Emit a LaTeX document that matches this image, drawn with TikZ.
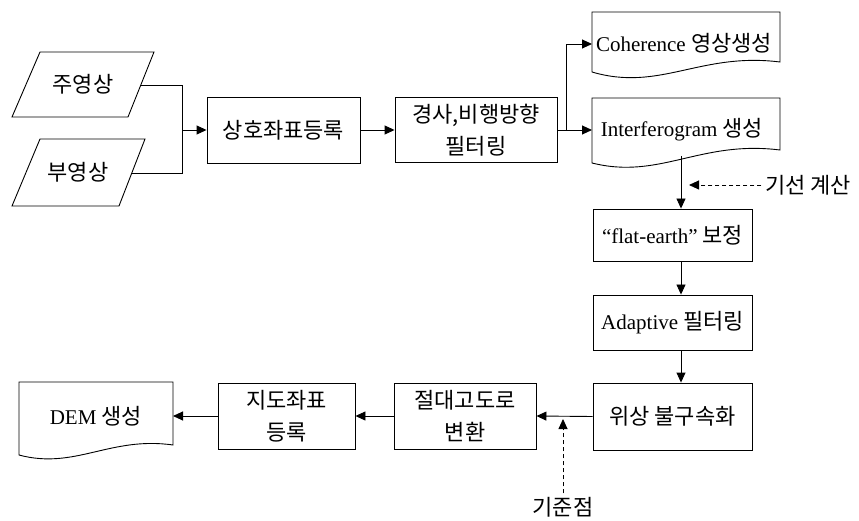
\documentclass[tikz,border=0pt]{standalone}
\usepackage{fontspec}
\setmainfont{Liberation Serif}
\newfontfamily\kr{Noto Sans CJK KR}
\usetikzlibrary{arrows.meta}
\begin{document}
\begin{tikzpicture}[x=1pt,y=-1pt,line width=0.9pt,
  krf/.style={font=\kr\fontsize{22}{32}\selectfont},
  proc/.style={draw,krf,align=center,inner sep=2pt},
  latf/.style={font=\fontsize{21}{24}\selectfont},
  arr/.style={-{Triangle[length=10pt,width=9pt]}},
  dasharr/.style={arr,dash pattern=on 4pt off 3pt}]
\useasboundingbox (0,0) rectangle (859,521);
% input parallelograms
\draw (40,52) -- (154,52) -- (128,117) -- (12,117) -- cycle;
\node[krf] (main) at (83,84) {주영상};
\draw (40,139) -- (145,139) -- (119,206) -- (12,206) -- cycle;
\node[krf] (sub) at (78,172) {부영상};
\coordinate (mainR) at (141,85);
\coordinate (subR) at (132,173);
\coordinate (join) at (182,130);
% process boxes
\node[proc,minimum width=153pt,minimum height=66pt] (reg) at (283.5,130) {상호좌표등록};
\node[proc,minimum width=162pt,minimum height=65pt] (filt) at (476,130) {경사,비행방향\\필터링};
\node[proc,minimum width=159pt,minimum height=52pt] (flat) at (672.5,235) {{\rmfamily\fontsize{21}{24}\selectfont ``flat-earth''} 보정};
\node[proc,minimum width=159pt,minimum height=55pt] (adap) at (672.5,322.5) {{\rmfamily\fontsize{21}{24}\selectfont Adaptive} 필터링};
\node[proc,minimum width=159pt,minimum height=67pt] (phase) at (672.5,416.5) {위상 불구속화};
\node[proc,minimum width=142pt,minimum height=66pt] (abs) at (465,416) {절대고도로\\변환};
\node[proc,minimum width=137pt,minimum height=66pt] (map) at (286.5,416) {지도좌표\\등록};
% documents
\draw (592,12) -- (780,12) -- (780,62) .. controls (700,52) and (660,92) .. (592,72) -- cycle;
\node[latf] (coh) at (684,43) {Coherence {\kr\fontsize{22}{24}\selectfont 영상생성}};
\draw (592,98) -- (780,98) -- (780,150) .. controls (700,140) and (660,180) .. (592,163) -- cycle;
\node[latf] (intf) at (682,130) {Interferogram {\kr\fontsize{22}{24}\selectfont 생성}};
\draw (19,382) -- (173,382) -- (173,445) .. controls (110,436) and (75,470) .. (19,455) -- cycle;
\node[latf] (dem) at (96,416) {DEM {\kr\fontsize{22}{24}\selectfont 생성}};
% side labels
\node[krf] (base) at (808,185) {기선 계산};
\node[krf] (refpt) at (563,507) {기준점};
% coordinates
\coordinate (br) at (566,130);
\coordinate (cohL) at (592,44);
\coordinate (intfL) at (592,130);
\coordinate (intfB) at (681,156);
\coordinate (baseT) at (689,185);
\coordinate (refT) at (563,419);
\coordinate (demR) at (173,416);
% connectors
\draw (mainR) -| (join);
\draw (subR) -| (join);
\draw[arr] (join) -- (reg.west);
\draw[arr] (reg.east) -- (filt.west);
\draw (filt.east) -- (br);
\draw[arr] (br) |- (cohL);
\draw[arr] (br) -- (intfL);
\draw[arr] (intfB) -- (intfB |- flat.north);
\draw[dasharr] (base.west) -- (baseT);
\draw[arr] (flat.south -| intfB) -- (adap.north -| intfB);
\draw[arr] (adap.south -| intfB) -- (phase.north -| intfB);
\draw[arr] (phase.west) -- (abs.east);
\draw[dasharr] (refpt.north) -- (refT);
\draw[arr] (abs.west) -- (map.east);
\draw[arr] (map.west) -- (demR);
\end{tikzpicture}
\end{document}
